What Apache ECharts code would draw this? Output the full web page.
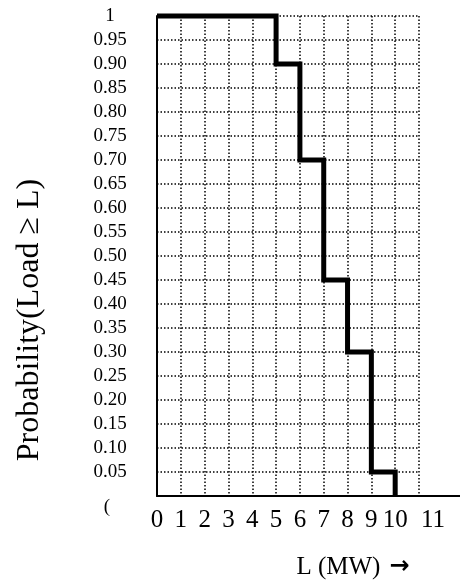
<!DOCTYPE html>
<html>
<head>
<meta charset="utf-8">
<script src="https://cdn.jsdelivr.net/npm/echarts@6/dist/echarts.min.js"></script>
<style>
  html, body { margin: 0; padding: 0; background: #fff; }
  #chart { width: 460px; height: 584px; }
</style>
</head>
<body>
<div id="chart"></div>
<script>
// load level (MW) where each step starts, and P(Load >= L) on that step
var loadMW = [0, 5, 6, 7, 8, 9, 10]
var probability = [1, 0.9, 0.7, 0.45, 0.3, 0.05, 0]
var xTicks = [0, 1, 2, 3, 4, 5, 6, 7, 8, 9, 10, 11]
var yTitle = 'Probability(Load \u2265 L)'
var xTitle = 'L (MW)'

var serif = '"Liberation Serif", "DejaVu Serif", serif'
var myChart = echarts.init(document.getElementById('chart'))

var points = loadMW.map(function(x, i) {
  return [x, probability[i]]
})

var gridLine = { color: '#000', width: 1.5, type: [1.5, 2] }

myChart.setOption({
  animation: false,
  backgroundColor: '#fff',
  grid: [{
    left: 157, right: 41, top: 16, bottom: 88
  }, {
    // wider grid only used to draw the long bottom axis line
    left: 157, right: 0, top: 16, bottom: 88
  }],
  xAxis: [{
    gridIndex: 0,
    type: 'value',
    min: xTicks[0],
    max: xTicks[xTicks.length - 1],
    interval: 1,
    axisLine: { show: false },
    axisTick: { show: false },
    splitLine: { show: true, lineStyle: gridLine },
    axisLabel: {
      margin: 12,
      fontFamily: serif,
      fontSize: 25,
      color: '#000',
      showMaxLabel: true,
      formatter: function(v) {
        return v === 11 ? '{s|11}' : String(v)
      },
      rich: {
        s: { fontFamily: serif, fontSize: 25, color: '#000', padding: [0, 0, 0, 28] }
      }
    }
  }, {
    gridIndex: 1,
    type: 'value',
    min: 0,
    max: 1,
    axisLine: { show: true, lineStyle: { color: '#000', width: 2 } },
    axisTick: { show: false },
    axisLabel: { show: false },
    splitLine: { show: false }
  }],
  yAxis: [{
    gridIndex: 0,
    type: 'value',
    min: 0,
    max: 1,
    interval: 0.05,
    axisLine: { show: true, lineStyle: { color: '#000', width: 2 } },
    axisTick: { show: false },
    splitLine: { show: true, lineStyle: gridLine },
    axisLabel: {
      align: 'center',
      margin: 47,
      fontFamily: serif,
      fontSize: 19,
      color: '#000',
      formatter: function(v) {
        if (v === 0) return '{z|(}'
        if (Math.abs(v - 1) < 1e-9) return '1'
        return v.toFixed(2)
      },
      rich: {
        z: { fontFamily: serif, fontSize: 19, color: '#000', padding: [22, 6, 0, 0] }
      }
    }
  }, {
    gridIndex: 1,
    type: 'value',
    show: false,
    min: 0,
    max: 1
  }],
  graphic: [{
    type: 'text',
    x: 30,
    y: 320,
    rotation: Math.PI / 2,
    style: {
      text: yTitle,
      font: '32px ' + serif,
      fill: '#000',
      align: 'center',
      verticalAlign: 'middle'
    }
  }, {
    type: 'text',
    x: 353,
    y: 567,
    style: {
      text: '{t|' + xTitle + '}{a|\u2192}',
      align: 'center',
      verticalAlign: 'middle',
      rich: {
        t: { font: '25px ' + serif, fill: '#000' },
        a: { font: 'bold 24px "DejaVu Sans", sans-serif', fill: '#000', padding: [0, 0, 0, 9] }
      }
    }
  }],
  series: [{
    type: 'line',
    xAxisIndex: 0,
    yAxisIndex: 0,
    step: 'end',
    clip: false,
    symbol: 'none',
    lineStyle: { color: '#000', width: 5, join: 'miter' },
    data: points
  }]
})
</script>
</body>
</html>
